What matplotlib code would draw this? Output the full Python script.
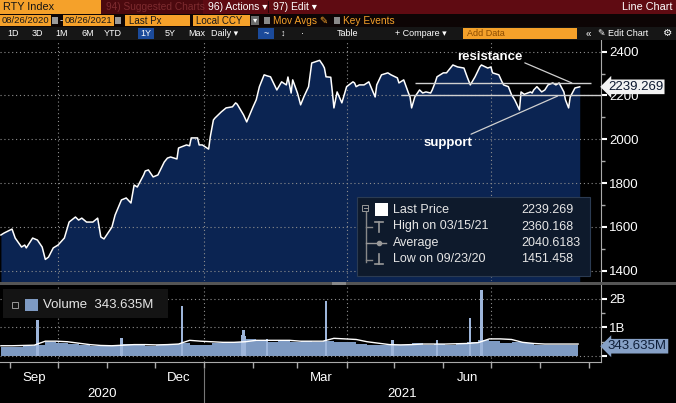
import matplotlib
matplotlib.use('Agg')
import matplotlib.pyplot as plt
import matplotlib.dates as mdates
import matplotlib.transforms as mtransforms
from matplotlib.patches import Rectangle
from matplotlib.ticker import MultipleLocator, FixedLocator, FixedFormatter, NullFormatter
import pandas as pd

plt.rcParams['font.family'] = ['Liberation Sans', 'DejaVu Sans']

# ---- data ----
price_dates = [
    '2020-08-26', '2020-08-28', '2020-09-02', '2020-09-04', '2020-09-08', '2020-09-10', '2020-09-11',
    '2020-09-15', '2020-09-18', '2020-09-21', '2020-09-23', '2020-09-25', '2020-09-28',
    '2020-10-01', '2020-10-05', '2020-10-08', '2020-10-12', '2020-10-14', '2020-10-16', '2020-10-19',
    '2020-10-23', '2020-10-26', '2020-10-28', '2020-10-30',
    '2020-11-04', '2020-11-06', '2020-11-10', '2020-11-13', '2020-11-16', '2020-11-18', '2020-11-20',
    '2020-11-24', '2020-11-25', '2020-11-27', '2020-11-30',
    '2020-12-03', '2020-12-07', '2020-12-09', '2020-12-11', '2020-12-15', '2020-12-16', '2020-12-21',
    '2020-12-23', '2020-12-24', '2020-12-28', '2020-12-29', '2020-12-31',
    '2021-01-04', '2021-01-05', '2021-01-07', '2021-01-08', '2021-01-12', '2021-01-15', '2021-01-19',
    '2021-01-21', '2021-01-22', '2021-01-26', '2021-01-28',
    '2021-02-01', '2021-02-03', '2021-02-05', '2021-02-08', '2021-02-10', '2021-02-12', '2021-02-16',
    '2021-02-19', '2021-02-22', '2021-02-23', '2021-02-25', '2021-02-26',
    '2021-03-01', '2021-03-03', '2021-03-05', '2021-03-08', '2021-03-10', '2021-03-15', '2021-03-17',
    '2021-03-18', '2021-03-19', '2021-03-22', '2021-03-23', '2021-03-24', '2021-03-26', '2021-03-29',
    '2021-04-01', '2021-04-05', '2021-04-06', '2021-04-07', '2021-04-09', '2021-04-12', '2021-04-15',
    '2021-04-19', '2021-04-20', '2021-04-23', '2021-04-27', '2021-04-29',
    '2021-05-03', '2021-05-04', '2021-05-07', '2021-05-10', '2021-05-11', '2021-05-12', '2021-05-14',
    '2021-05-17', '2021-05-19', '2021-05-21', '2021-05-24', '2021-05-25', '2021-05-27', '2021-05-28',
    '2021-06-01', '2021-06-03', '2021-06-07', '2021-06-10', '2021-06-14', '2021-06-16', '2021-06-18',
    '2021-06-21', '2021-06-24', '2021-06-25', '2021-06-29',
    '2021-07-01', '2021-07-02', '2021-07-06', '2021-07-08', '2021-07-09', '2021-07-12', '2021-07-14',
    '2021-07-16', '2021-07-19', '2021-07-20', '2021-07-22', '2021-07-26', '2021-07-27', '2021-07-28',
    '2021-07-30',
    '2021-08-02', '2021-08-04', '2021-08-06', '2021-08-09', '2021-08-11', '2021-08-13', '2021-08-16',
    '2021-08-17', '2021-08-19', '2021-08-20', '2021-08-23', '2021-08-26',
]
price_values = [
    1563, 1572, 1590, 1549, 1508, 1517, 1504,
    1549, 1540, 1508, 1451.458, 1462, 1504,
    1517, 1549, 1622, 1645, 1631, 1640, 1622,
    1622, 1640, 1554, 1545,
    1599, 1654, 1723, 1732, 1709, 1791, 1782,
    1837, 1855, 1860, 1828,
    1837, 1896, 1914, 1919, 1910, 1960, 1974,
    1970, 2006, 2006, 1974, 1974,
    1955, 2010, 2088, 2097, 2125, 2143, 2148,
    2166, 2160, 2111, 2079,
    2148, 2180, 2240, 2294, 2289, 2285, 2225,
    2262, 2248, 2284, 2211, 2271,
    2211, 2157, 2193, 2240, 2348, 2360.168, 2339,
    2325, 2285, 2283, 2216, 2143, 2216, 2166,
    2240, 2262, 2257, 2240, 2248, 2248, 2262,
    2193, 2248, 2294, 2303, 2294,
    2280, 2257, 2271, 2211, 2193, 2143, 2193,
    2225, 2211, 2216, 2211, 2225, 2262, 2285,
    2303, 2303, 2339, 2330, 2325, 2285, 2248,
    2285, 2330, 2339, 2325,
    2330, 2303, 2294, 2262, 2248, 2240, 2203,
    2180, 2134, 2216, 2205, 2216, 2211, 2225,
    2240,
    2216, 2225, 2248, 2257, 2248, 2257, 2216,
    2180, 2143, 2193, 2234, 2239.269,
]

last_price = 2239.269
high_price, high_date = 2360.168, '03/15/21'
avg_price = 2040.6183
low_price, low_date = 1451.458, '09/23/20'

resistance_level = 2257
support_level = 2202

# weekly volume level (billions) and its moving average
vol_week_start = '2020-08-26'
vol_base = [0.33, 0.33, 0.36, 0.40, 0.50, 0.45, 0.42, 0.38, 0.36, 0.35,
            0.38, 0.42, 0.40, 0.36, 0.38, 0.42, 0.45, 0.40, 0.38, 0.45,
            0.48, 0.50, 0.58, 0.52, 0.48, 0.52, 0.50, 0.52, 0.50, 0.52,
            0.48, 0.50, 0.42, 0.40, 0.38, 0.38, 0.40, 0.45, 0.40, 0.42,
            0.40, 0.45, 0.48, 0.55, 0.52, 0.45, 0.48, 0.45, 0.38, 0.40,
            0.40, 0.38, 0.34]
vol_avg = [0.36, 0.36, 0.37, 0.38, 0.52, 0.52, 0.50, 0.45, 0.40, 0.37,
           0.36, 0.38, 0.40, 0.40, 0.39, 0.40, 0.42, 0.55, 0.52, 0.50,
           0.48, 0.48, 0.50, 0.55, 0.55, 0.55, 0.55, 0.52, 0.52, 0.52,
           0.62, 0.60, 0.58, 0.50, 0.45, 0.40, 0.39, 0.40, 0.42, 0.42,
           0.42, 0.43, 0.44, 0.47, 0.60, 0.60, 0.58, 0.48, 0.44, 0.42,
           0.42, 0.42, 0.42]
spike_dates = ['2020-09-18', '2020-11-10', '2020-12-18', '2021-01-25', '2021-01-26', '2021-01-27',
               '2021-02-10', '2021-03-19', '2021-04-30', '2021-05-28', '2021-06-18', '2021-06-25']
spike_values = [1.25, 0.63, 1.75, 0.72, 0.90, 0.70, 0.58, 1.93, 0.56, 0.55, 1.33, 2.30]
last_volume = 0.343635

month_labels = ['Sep', 'Dec', 'Mar', 'Jun']
month_label_dates = ['2020-09-16', '2020-12-16', '2021-03-16', '2021-06-16']
quarter_starts = ['2020-10-01', '2021-01-01', '2021-04-01', '2021-07-01']
years = ['2020', '2021']

# ---- figure ----
W, H = 676, 403
fig = plt.figure(figsize=(W / 100, H / 100), dpi=100, facecolor='black')


def frac(x0, y0, x1, y1):
    return [x0 / W, 1 - y1 / H, (x1 - x0) / W, (y1 - y0) / H]


x_start = pd.Timestamp('2020-08-25 10:00')
x_end = pd.Timestamp('2021-09-08 10:00')
grid_kw = dict(color='#8f8f8f', lw=0.8, ls=(0, (1, 2.5)))
axis_grey = '#aaaaaa'
orange = '#f5a12a'

# price panel
ax = fig.add_axes(frac(0, 40, 601, 281))
ax.set_facecolor('black')
pdates = pd.to_datetime(price_dates)
ax.fill_between(pdates, price_values, 1000, color='#0b2452', lw=0, zorder=1)
for lvl in range(1400, 2401, 200):
    ax.axhline(lvl, zorder=1.5, **grid_kw)
for q in quarter_starts:
    ax.axvline(pd.Timestamp(q), zorder=1.5, **grid_kw)
ax.plot(pdates, price_values, color='white', lw=1.1, zorder=3)
ax.set_xlim(x_start, x_end)
ax.set_ylim(1353, 2453)
ax.set_xticks([])
ax.yaxis.tick_right()
ax.set_yticks(range(1400, 2401, 200))
ax.yaxis.set_minor_locator(MultipleLocator(100))
ax.tick_params(axis='y', which='major', length=4, width=1.5, colors='white', labelsize=9.5, pad=2)
ax.tick_params(axis='y', which='minor', length=3, width=1, colors=axis_grey)
for s in ['top', 'left', 'bottom']:
    ax.spines[s].set_visible(False)
ax.spines['right'].set_color(axis_grey)

# resistance / support drawings
ax.hlines(resistance_level, pd.Timestamp('2021-05-14'), pd.Timestamp('2021-09-02'), color='#d0d0d0', lw=1, zorder=4)
ax.hlines(support_level, pd.Timestamp('2021-05-05'), x_end, color='#d0d0d0', lw=1, zorder=4)
ax.annotate('resistance', xy=(pd.Timestamp('2021-08-21'), resistance_level),
            xytext=(pd.Timestamp('2021-06-30'), 2376), ha='center', va='center',
            color='white', fontsize=9.5, fontweight='bold', zorder=5,
            arrowprops=dict(arrowstyle='-', color='#d0d0d0', lw=0.9, shrinkA=0, shrinkB=0, relpos=(1, 0.1)))
ax.annotate('support', xy=(pd.Timestamp('2021-08-12'), support_level - 5),
            xytext=(pd.Timestamp('2021-06-04'), 1983), ha='center', va='center',
            color='white', fontsize=9.5, fontweight='bold', zorder=5,
            arrowprops=dict(arrowstyle='-', color='#d0d0d0', lw=0.9, shrinkA=0, shrinkB=0, relpos=(0.84, 1)))

ax.annotate(f'{last_price:.3f}', xy=(1, last_price), xycoords=('axes fraction', 'data'),
            xytext=(5, 0), textcoords='offset points', ha='left', va='center',
            fontsize=9.5, color='#0c1830', annotation_clip=False, zorder=6,
            bbox=dict(boxstyle='larrow,pad=0.1', fc='#f2f2f2', ec='none'))

# volume panel
axv = fig.add_axes(frac(0, 285, 601, 362))
axv.set_facecolor('black')
vdates = pd.date_range(vol_week_start, periods=len(vol_base), freq='7D')
axv.fill_between(vdates, vol_base, 0, step='post', color='#7e9ac2', lw=0, zorder=1)
axv.bar(pd.to_datetime(spike_dates), spike_values, width=1.4, color='#9db5da', zorder=1.2)
for lvl in [0, 1, 2]:
    axv.axhline(lvl, zorder=1.5, **grid_kw)
for q in quarter_starts:
    axv.axvline(pd.Timestamp(q), zorder=0.5, **grid_kw)
axv.plot(vdates, vol_avg, color='white', lw=1, zorder=3)
axv.set_xlim(x_start, x_end)
axv.set_ylim(-0.21, 2.49)
axv.yaxis.tick_right()
axv.set_yticks([0, 1, 2])
axv.set_yticklabels(['', '1B', '2B'])
axv.yaxis.set_minor_locator(FixedLocator([0.5, 1.5, 2.5]))
axv.tick_params(axis='y', which='major', length=4, width=1.5, colors='white', labelsize=9.5, pad=2)
axv.tick_params(axis='y', which='minor', length=3, width=1, colors=axis_grey)
axv.xaxis.set_major_locator(mdates.MonthLocator())
axv.xaxis.set_major_formatter(NullFormatter())
axv.xaxis.set_minor_locator(FixedLocator(mdates.date2num(pd.to_datetime(month_label_dates))))
axv.xaxis.set_minor_formatter(FixedFormatter(month_labels))
axv.tick_params(axis='x', which='major', length=4, width=1, colors=axis_grey)
axv.tick_params(axis='x', which='minor', length=0, labelcolor='white', labelsize=9.5, pad=7)
for s in ['top', 'left']:
    axv.spines[s].set_visible(False)
axv.spines['right'].set_color(axis_grey)
axv.spines['bottom'].set_color(axis_grey)

axv.annotate(f'{last_volume * 1000:.3f}M', xy=(1, last_volume), xycoords=('axes fraction', 'data'),
             xytext=(5, 0), textcoords='offset points', ha='left', va='center',
             fontsize=9.5, color='#0f1e38', annotation_clip=False, zorder=6,
             bbox=dict(boxstyle='larrow,pad=0.1', fc='#86a0c6', ec='none'))

# year labels under the month labels
blend = mtransforms.blended_transform_factory(axv.transData, axv.transAxes)
x0n, x1n = mdates.date2num(x_start), mdates.date2num(x_end)
jan1 = mdates.date2num(pd.Timestamp('2021-01-01'))
axv.text((x0n + jan1) / 2, -0.41, years[0], transform=blend, ha='center', va='center', color='white', fontsize=9.5)
axv.text((jan1 + x1n) / 2, -0.41, years[1], transform=blend, ha='center', va='center', color='white', fontsize=9.5)
axv.plot([jan1, jan1], [-0.08, -0.6], transform=blend, color='#777777', lw=0.8, clip_on=False)

# ---- terminal chrome ----
ui = fig.add_axes([0, 0, 1, 1], zorder=5)
ui.set_xlim(0, W)
ui.set_ylim(H, 0)
ui.axis('off')


def rect(x0, y0, x1, y1, fc, ec='none', lw=0):
    ui.add_patch(Rectangle((x0, y0), x1 - x0, y1 - y0, fc=fc, ec=ec, lw=lw))


def txt(x, y, s, color='white', size=8, ha='left', **kw):
    ui.text(x, y, s, color=color, fontsize=size, ha=ha, va='center', **kw)


# row 1
rect(0, 0, 676, 14, '#5f0b12')
rect(0, 0, 101, 14, orange)
txt(3, 7, 'RTY Index', '#151515', 7.8)
rect(101, 0, 203, 14, '#4b090e')
txt(106, 7, '94) Suggested Charts', '#7d2b2f', 7.3)
txt(208, 7, '96) Actions ▾', 'white', 7.5)
rect(268, 1, 269, 13, '#2a0508')
txt(273, 7, '97) Edit ▾', 'white', 7.5)
txt(672, 7, 'Line Chart', 'white', 7.8, ha='right')

# row 2
rect(0, 14, 676, 27, '#0d0505')
rect(0, 15, 51, 26, orange)
txt(1.5, 20.5, '08/26/2020', '#1a1a1a', 6.8)
rect(52, 17, 58, 24, '#9a9a9a')
txt(59.5, 20.5, '-', 'white', 7)
rect(63, 15, 114, 26, orange)
txt(64.5, 20.5, '08/26/2021', '#1a1a1a', 6.8)
rect(115, 17, 121, 24, '#9a9a9a')
rect(125, 15, 190, 26, orange)
txt(129, 20.5, 'Last Px', '#1a1a1a', 7)
rect(193, 15, 250, 26, orange)
txt(196, 20.5, 'Local CCY', '#1a1a1a', 7)
rect(251, 16, 259, 25, '#6a6a6a')
txt(255, 20.5, '▾', 'white', 6, ha='center')
rect(264, 17, 270, 24, '#8a8a8a')
txt(273, 20.5, 'Mov Avgs ✎', orange, 7.3)
rect(334, 17, 340, 24, '#8a8a8a')
txt(343, 20.5, 'Key Events', orange, 7.3)

# row 3
rect(0, 27, 676, 40, '#161616')
rect(138, 28, 154, 39, '#1b4a9a')
rect(258, 28, 274, 39, '#1b4a9a')
for label, xp in [('1D', 13), ('3D', 37), ('1M', 62), ('6M', 88), ('YTD', 113), ('1Y', 146),
                  ('5Y', 170), ('Max', 197), ('Daily ▾', 225), ('~', 266), ('↕', 283), ('·', 302)]:
    txt(xp, 33.5, label, 'white', 6.5, ha='center')
txt(337, 33.5, 'Table', 'white', 6.5)
txt(395, 33.5, '+ Compare ▾', 'white', 6.5)
rect(463, 28, 577, 39, orange)
txt(467, 33.5, 'Add Data', '#8a4a00', 6.5)
txt(586, 33.5, '«', 'white', 7)
txt(598, 33.5, '✎ Edit Chart', 'white', 6.5)
txt(668, 33.5, '⚙', 'white', 7.5, ha='center')

# separator between price and volume panels
rect(0, 281.5, 676, 284.5, '#555555')
rect(332, 281.5, 346, 284.5, '#888888')

# price legend box
rect(357, 197, 590, 276, '#0e1a2c', ec='#2b3b52', lw=0.8)
rect(362, 205, 368, 211, 'none', ec='#999999', lw=0.7)
ui.plot([363.5, 366.5], [208, 208], color='#999999', lw=0.7)
ui.plot([366, 366], [212, 262], color='#888888', lw=1)
rect(375, 203, 388, 216, 'white')
ui.plot([366, 372], [227, 227], color='#888888', lw=1)
ui.plot([379, 379], [222, 232], color='#999999', lw=1.2)
ui.plot([375, 383], [222, 222], color='#999999', lw=1.2)
ui.plot([366, 386], [243, 243], color='#999999', lw=1)
ui.plot([379], [243], marker='o', ms=3, color='#999999')
ui.plot([366, 372], [260, 260], color='#888888', lw=1)
ui.plot([379, 379], [254, 264], color='#999999', lw=1.2)
ui.plot([375, 383], [264, 264], color='#999999', lw=1.2)
legend_rows = [
    ('Last Price', f'{last_price:.3f}'),
    (f'High on {high_date}', f'{high_price:.3f}'),
    ('Average', f'{avg_price:.4f}'),
    (f'Low on {low_date}', f'{low_price:.3f}'),
]
for i, (name, val) in enumerate(legend_rows):
    yrow = 210 + i * 16.5
    txt(393, yrow, name, '#e6e6e6', 9)
    txt(521, yrow, val, '#e6e6e6', 9)

# volume legend box
rect(3, 289, 168, 318, '#141414')
rect(12, 302, 18, 308, 'none', ec='#999999', lw=0.7)
rect(25, 299, 38, 311, '#7e9ac2')
txt(43, 305, f'Volume  {last_volume * 1000:.3f}M', '#e6e6e6', 9.5)

fig.savefig('out.png', dpi=100, facecolor='black')
